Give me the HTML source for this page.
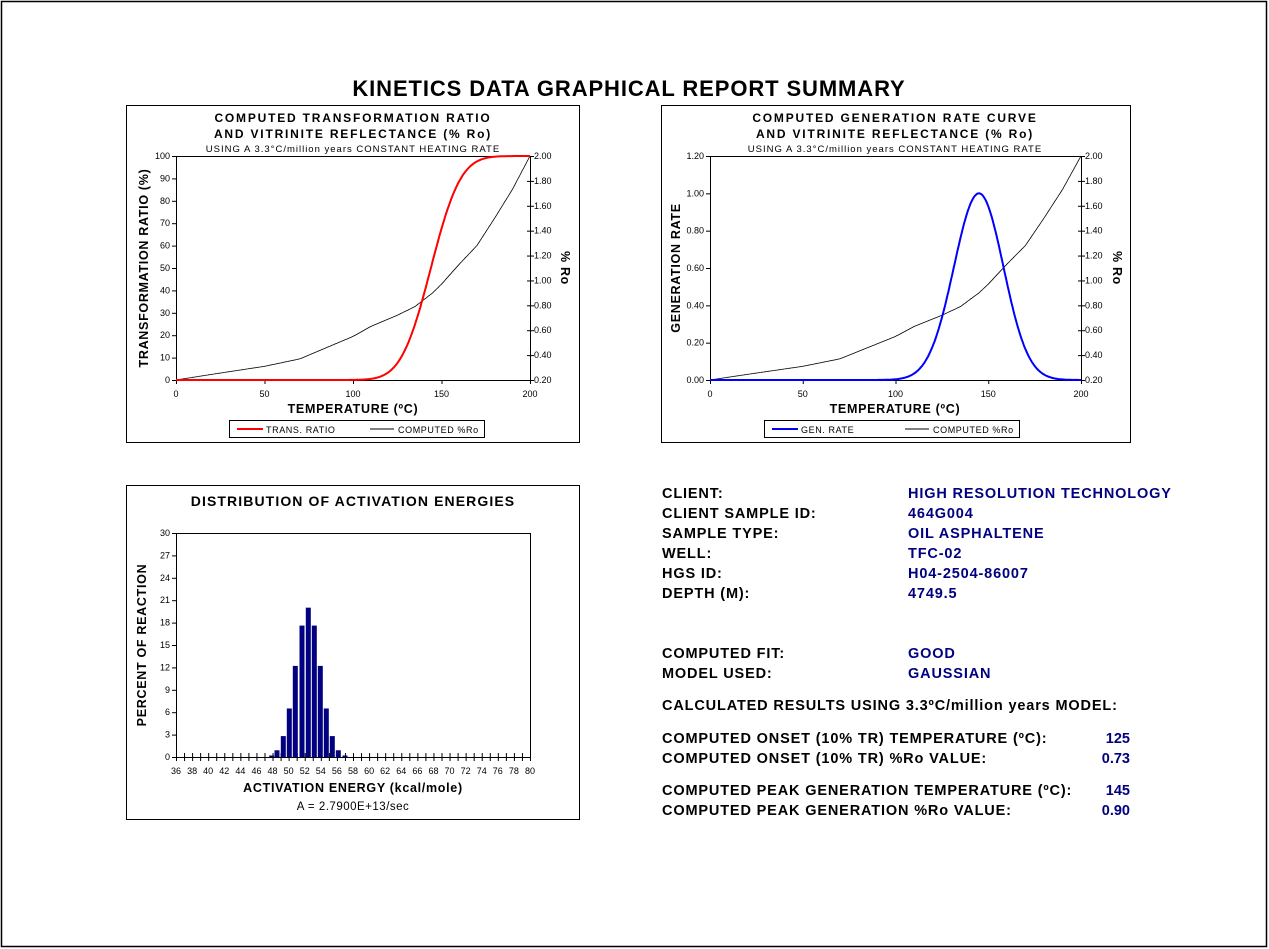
<!DOCTYPE html>
<html><head><meta charset="utf-8"><style>
body{margin:0;background:#fff;width:1269px;height:949px;overflow:hidden;font-family:"Liberation Sans",Arial,sans-serif}
svg{position:absolute;left:0;top:0}
</style></head><body>
<svg id="s" width="1269" height="949" xmlns="http://www.w3.org/2000/svg" font-family="Liberation Sans, Arial, sans-serif">
<rect x="1.5" y="1.5" width="1265" height="945" fill="none" stroke="#000" stroke-width="1.5"/>
<text x="629" y="96" font-size="22" font-weight="bold" text-anchor="middle" letter-spacing="0.9">KINETICS DATA GRAPHICAL REPORT SUMMARY</text>
<rect x="126.5" y="105.5" width="453" height="337" fill="none" stroke="#000"/>
<rect x="661.5" y="105.5" width="469" height="337" fill="none" stroke="#000"/>
<rect x="126.5" y="485.5" width="453" height="334" fill="none" stroke="#000"/>
<g font-size="12" font-weight="bold" text-anchor="middle" letter-spacing="1.8">
<text x="353" y="122">COMPUTED TRANSFORMATION RATIO</text>
<text x="353" y="138">AND VITRINITE REFLECTANCE (% Ro)</text>
<text x="895" y="122">COMPUTED GENERATION RATE CURVE</text>
<text x="895" y="138">AND VITRINITE REFLECTANCE (% Ro)</text>
</g>
<g font-size="9.5" text-anchor="middle" letter-spacing="1">
<text x="353" y="152">USING A 3.3°C/million years CONSTANT HEATING RATE</text>
<text x="895" y="152">USING A 3.3°C/million years CONSTANT HEATING RATE</text>
</g>
<g id="c1"></g><g id="c2"></g><g id="c3"></g>
<g font-size="12.5" font-weight="bold" text-anchor="middle" letter-spacing="0.7">
<text x="353" y="413">TEMPERATURE (ºC)</text>
<text x="895" y="413">TEMPERATURE (ºC)</text>
<text transform="translate(148,268) rotate(-90)">TRANSFORMATION RATIO (%)</text>
<text transform="translate(680,268) rotate(-90)">GENERATION RATE</text>
<text transform="translate(561,268) rotate(90)">% Ro</text>
<text transform="translate(1113,268) rotate(90)">% Ro</text>
<text x="353" y="506" font-size="14" letter-spacing="1.1">DISTRIBUTION OF ACTIVATION ENERGIES</text>
<text transform="translate(146,645) rotate(-90)">PERCENT OF REACTION</text>
<text x="353" y="792">ACTIVATION ENERGY (kcal/mole)</text>
<text x="353" y="810" font-size="11.5" font-weight="normal" letter-spacing="0.5">A = 2.7900E+13/sec</text>
</g>
<g font-size="9" letter-spacing="0.6">
<rect x="229.5" y="420.5" width="255" height="17" fill="none" stroke="#000"/>
<line x1="237" y1="429" x2="263" y2="429" stroke="red" stroke-width="2"/>
<text x="266" y="433">TRANS. RATIO</text>
<line x1="370" y1="429" x2="394" y2="429" stroke="#000"/>
<text x="398" y="433">COMPUTED %Ro</text>
<rect x="764.5" y="420.5" width="255" height="17" fill="none" stroke="#000"/>
<line x1="772" y1="429" x2="798" y2="429" stroke="blue" stroke-width="2"/>
<text x="801" y="433">GEN. RATE</text>
<line x1="905" y1="429" x2="929" y2="429" stroke="#000"/>
<text x="933" y="433">COMPUTED %Ro</text>
</g>
<g font-size="14.5" font-weight="bold" letter-spacing="0.85">
<text x="662" y="498">CLIENT:</text><text x="662" y="518">CLIENT SAMPLE ID:</text><text x="662" y="538">SAMPLE TYPE:</text>
<text x="662" y="558">WELL:</text><text x="662" y="578">HGS ID:</text><text x="662" y="598">DEPTH (M):</text>
<text x="662" y="658">COMPUTED FIT:</text><text x="662" y="678">MODEL USED:</text>
<text x="662" y="710">CALCULATED RESULTS USING 3.3ºC/million years MODEL:</text>
<text x="662" y="743">COMPUTED ONSET (10% TR) TEMPERATURE (ºC):</text>
<text x="662" y="763">COMPUTED ONSET (10% TR) %Ro VALUE:</text>
<text x="662" y="795">COMPUTED PEAK GENERATION TEMPERATURE (ºC):</text>
<text x="662" y="815">COMPUTED PEAK GENERATION %Ro VALUE:</text>
<g fill="#000080">
<text x="908" y="498">HIGH RESOLUTION TECHNOLOGY</text><text x="908" y="518">464G004</text><text x="908" y="538">OIL ASPHALTENE</text>
<text x="908" y="558">TFC-02</text><text x="908" y="578">H04-2504-86007</text><text x="908" y="598">4749.5</text>
<text x="908" y="658">GOOD</text><text x="908" y="678">GAUSSIAN</text>
<g text-anchor="end" letter-spacing="0"><text x="1130" y="743">125</text><text x="1130" y="763">0.73</text><text x="1130" y="795">145</text><text x="1130" y="815">0.90</text></g>
</g></g>
</svg>
<script>
var NS="http://www.w3.org/2000/svg";
function el(p,t,a,tx){var e=document.createElementNS(NS,t);for(var k in a)e.setAttribute(k,a[k]);if(tx!=null)e.textContent=tx;p.appendChild(e);return e;}
var roT=[0,20,50,70,100,110,125,135,145,150,160,170,180,190,200],roV=[0.2,0.245,0.31,0.37,0.55,0.63,0.72,0.79,0.9,0.97,1.13,1.28,1.5,1.73,2.0];
function ro(t){for(var i=1;i<roT.length;i++)if(t<=roT[i]){var f=(t-roT[i-1])/(roT[i]-roT[i-1]);return roV[i-1]+f*(roV[i]-roV[i-1]);}return 2;}
function erf(x){var s=x<0?-1:1;x=Math.abs(x);var t=1/(1+0.3275911*x);var y=1-(((((1.061405429*t-1.453152027)*t)+1.421413741)*t-0.284496736)*t+0.254829592)*t*Math.exp(-x*x);return s*y;}
function chart(g,x0,x1,leftLabels,leftMax,kind){
 var y0=156,y1=380,W=x1-x0,H=y1-y0;
 el(g,"rect",{x:x0+.5,y:y0+.5,width:W,height:H,fill:"none",stroke:"#000"});
 leftLabels.forEach(function(l,i){var y=y1-i*H/(leftLabels.length-1);el(g,"line",{x1:x0-4,y1:y+.5,x2:x0,y2:y+.5,stroke:"#000"});el(g,"text",{x:x0-6,y:y+3,"font-size":9,"text-anchor":"end"},l);});
 for(var i=0;i<=9;i++){var y=y1-i*H/9;el(g,"line",{x1:x1-3,y1:y+.5,x2:x1+4,y2:y+.5,stroke:"#000"});el(g,"text",{x:x1+4,y:y+3,"font-size":9},(0.2+i*0.2).toFixed(2));}
 for(var i=0;i<=4;i++){var x=x0+i*W/4;el(g,"line",{x1:x+.5,y1:y1,x2:x+.5,y2:y1+4,stroke:"#000"});el(g,"text",{x:x,y:y1+17,"font-size":9,"text-anchor":"middle"},i*50);}
 var p1="",p2="";
 for(var t=0;t<=200;t+=0.5){var x=x0+t/200*W;
  var r=ro(t);p1+=(t?"L":"M")+x.toFixed(1)+","+(y1-(r-0.2)/1.8*H).toFixed(1);
  var v;if(kind==1){v=50*(1+erf((t-144)/(13.2*Math.SQRT2)));v=Math.min(100,v);v=v/100;}else{var s=t<145?13.5:13.2;v=Math.exp(-Math.pow(t-145,2)/(2*s*s))/1.2;}
  p2+=(t?"L":"M")+x.toFixed(1)+","+(y1-v*H).toFixed(1);}
 el(g,"path",{d:p1,fill:"none",stroke:"#000","stroke-width":0.8});
 el(g,"path",{d:p2,fill:"none",stroke:kind==1?"red":"blue","stroke-width":2});
}
chart(document.getElementById("c1"),176,530,["0","10","20","30","40","50","60","70","80","90","100"],100,1);
chart(document.getElementById("c2"),710,1081,["0.00","0.20","0.40","0.60","0.80","1.00","1.20"],1.2,2);
(function(){var g=document.getElementById("c3"),x0=176,x1=530,y0=533,y1=757,H=y1-y0;
 el(g,"rect",{x:x0+.5,y:y0+.5,width:x1-x0,height:H,fill:"none",stroke:"#000"});
 for(var i=0;i<=10;i++){var y=y1-i*H/10;el(g,"line",{x1:x0-4,y1:y+.5,x2:x0,y2:y+.5,stroke:"#000"});el(g,"text",{x:x0-6,y:y+3,"font-size":9,"text-anchor":"end"},i*3);}
 for(var i=0;i<=44;i++){var x=x0+i*(x1-x0)/44;el(g,"line",{x1:x+.5,y1:y1-4,x2:x+.5,y2:y1+4,stroke:"#000"});if(i%2==0)el(g,"text",{x:x,y:y1+17,"font-size":9,"text-anchor":"middle"},36+i);}
 var v=[0.2,0.9,2.8,6.5,12.2,17.6,20,17.6,12.2,6.5,2.8,0.9,0.2],cx=[271.7,277,283.3,289.3,295.3,302,308.3,314.3,320.3,326.3,332.3,338.3,345];
 v.forEach(function(a,i){var h=a/30*H;el(g,"rect",{x:cx[i]-2.5,y:y1-h,width:5,height:h,fill:"#000080"});});
})();
</script>
</body></html>
